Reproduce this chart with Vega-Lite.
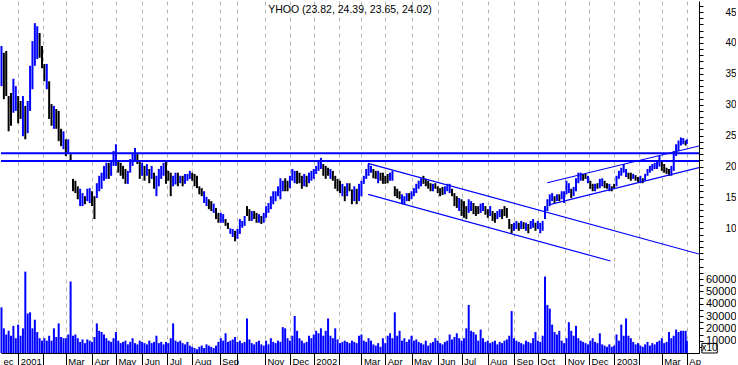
{
"$schema": "https://vega.github.io/schema/vega-lite/v6.json",
"padding": 0,
"background": "white",
"spacing": 0,
"bounds": "flush",
"config": {"view": {"stroke": null}, "font": "Liberation Sans", "axis": {"labelFont": "Liberation Sans", "labelColor": "#000000", "domainColor": "#000000", "tickColor": "#000000", "title": null, "labelOverlap": false, "labelBound": false, "labelFlush": false}},
"datasets": {
"bars": [
{"i":0,"o":34.5,"h":39.5,"l":33.0,"c":38.2,"v":37000},
{"i":2,"o":37.0,"h":38.4,"l":30.9,"c":32.5,"v":20000},
{"i":4,"o":37.5,"h":38.7,"l":31.4,"c":32.8,"v":15000},
{"i":6,"o":30.5,"h":31.4,"l":25.7,"c":26.8,"v":18000},
{"i":8,"o":31.0,"h":31.9,"l":26.6,"c":27.8,"v":14000},
{"i":10,"o":29.8,"h":34.2,"l":28.7,"c":33.2,"v":22000},
{"i":12,"o":29.8,"h":33.0,"l":29.0,"c":32.3,"v":12000},
{"i":14,"o":30.6,"h":31.4,"l":27.0,"c":28.0,"v":23000},
{"i":16,"o":30.0,"h":30.6,"l":27.7,"c":28.3,"v":14000},
{"i":18,"o":26.2,"h":31.4,"l":24.9,"c":30.2,"v":20000},
{"i":20,"o":28.9,"h":29.8,"l":24.4,"c":25.6,"v":66000},
{"i":22,"o":26.4,"h":30.6,"l":25.4,"c":29.6,"v":32000},
{"i":24,"o":30.4,"h":36.3,"l":29.0,"c":35.2,"v":33000},
{"i":26,"o":34.0,"h":40.3,"l":32.5,"c":39.0,"v":20000},
{"i":28,"o":37.5,"h":43.2,"l":36.3,"c":42.3,"v":27000},
{"i":30,"o":38.4,"h":42.7,"l":37.4,"c":41.8,"v":17000},
{"i":32,"o":41.0,"h":41.6,"l":37.6,"c":38.3,"v":12000},
{"i":34,"o":39.0,"h":39.5,"l":35.9,"c":36.6,"v":10000},
{"i":36,"o":36.1,"h":36.6,"l":33.8,"c":34.3,"v":12000},
{"i":38,"o":33.3,"h":36.6,"l":32.5,"c":35.8,"v":10000},
{"i":40,"o":33.0,"h":33.8,"l":27.7,"c":28.9,"v":14000},
{"i":42,"o":29.5,"h":30.1,"l":26.6,"c":27.3,"v":10000},
{"i":44,"o":26.8,"h":29.8,"l":26.1,"c":29.1,"v":20000},
{"i":46,"o":28.7,"h":29.3,"l":26.1,"c":26.7,"v":13000},
{"i":48,"o":28.1,"h":29.0,"l":24.1,"c":25.1,"v":24000},
{"i":50,"o":25.6,"h":26.1,"l":23.3,"c":23.9,"v":13000},
{"i":52,"o":23.3,"h":25.7,"l":22.8,"c":25.1,"v":12000},
{"i":54,"o":23.9,"h":24.4,"l":21.7,"c":22.2,"v":12000},
{"i":56,"o":22.6,"h":24.4,"l":22.2,"c":23.9,"v":15000},
{"i":58,"o":21.8,"h":22.0,"l":20.9,"c":21.1,"v":58000},
{"i":60,"o":17.6,"h":18.0,"l":16.0,"c":16.5,"v":14000},
{"i":62,"o":17.3,"h":17.7,"l":15.7,"c":16.1,"v":15000},
{"i":64,"o":16.4,"h":16.8,"l":14.7,"c":15.2,"v":12000},
{"i":66,"o":14.2,"h":16.4,"l":13.6,"c":15.8,"v":9000},
{"i":68,"o":14.1,"h":15.7,"l":13.6,"c":15.3,"v":11000},
{"i":70,"o":15.0,"h":15.2,"l":13.9,"c":14.2,"v":8000},
{"i":72,"o":14.8,"h":16.4,"l":14.4,"c":16.0,"v":11000},
{"i":74,"o":14.6,"h":16.5,"l":14.1,"c":16.0,"v":10000},
{"i":76,"o":15.5,"h":16.0,"l":13.6,"c":14.1,"v":9000},
{"i":78,"o":14.5,"h":15.2,"l":11.5,"c":12.3,"v":13000},
{"i":80,"o":15.4,"h":17.3,"l":14.9,"c":16.8,"v":24000},
{"i":82,"o":16.5,"h":18.5,"l":16.0,"c":18.0,"v":18000},
{"i":84,"o":16.9,"h":19.0,"l":16.4,"c":18.5,"v":17000},
{"i":86,"o":18.2,"h":20.1,"l":17.7,"c":19.6,"v":15000},
{"i":88,"o":18.5,"h":20.6,"l":18.0,"c":20.1,"v":12000},
{"i":90,"o":20.1,"h":20.6,"l":18.0,"c":18.6,"v":10000},
{"i":92,"o":19.0,"h":20.9,"l":18.5,"c":20.4,"v":9000},
{"i":94,"o":20.6,"h":22.5,"l":20.1,"c":22.0,"v":12000},
{"i":96,"o":20.9,"h":23.6,"l":20.1,"c":22.9,"v":17000},
{"i":98,"o":20.5,"h":20.9,"l":19.0,"c":19.4,"v":10000},
{"i":100,"o":20.2,"h":20.6,"l":18.5,"c":19.0,"v":8000},
{"i":102,"o":19.7,"h":20.1,"l":18.0,"c":18.5,"v":9000},
{"i":104,"o":19.1,"h":19.6,"l":17.2,"c":17.8,"v":10000},
{"i":106,"o":17.7,"h":19.3,"l":17.2,"c":18.9,"v":7000},
{"i":108,"o":19.5,"h":21.2,"l":19.0,"c":20.8,"v":9000},
{"i":110,"o":20.6,"h":22.2,"l":20.1,"c":21.8,"v":12000},
{"i":112,"o":21.4,"h":23.0,"l":20.9,"c":22.6,"v":8000},
{"i":114,"o":21.9,"h":22.2,"l":20.4,"c":20.8,"v":7000},
{"i":116,"o":20.4,"h":20.9,"l":18.0,"c":18.7,"v":10000},
{"i":118,"o":19.0,"h":20.6,"l":18.5,"c":20.2,"v":9000},
{"i":120,"o":19.6,"h":20.1,"l":17.7,"c":18.3,"v":8000},
{"i":122,"o":18.9,"h":20.4,"l":18.5,"c":20.0,"v":7000},
{"i":124,"o":19.1,"h":19.6,"l":17.3,"c":17.9,"v":10000},
{"i":126,"o":18.5,"h":20.1,"l":18.0,"c":19.7,"v":8000},
{"i":128,"o":18.5,"h":19.0,"l":16.4,"c":17.0,"v":9000},
{"i":130,"o":16.0,"h":18.5,"l":15.2,"c":18.0,"v":14000},
{"i":132,"o":17.4,"h":19.6,"l":16.8,"c":19.1,"v":8000},
{"i":134,"o":18.5,"h":20.1,"l":18.0,"c":19.7,"v":9000},
{"i":136,"o":19.0,"h":20.6,"l":18.5,"c":20.2,"v":7000},
{"i":138,"o":20.2,"h":20.9,"l":17.2,"c":17.9,"v":9000},
{"i":140,"o":19.0,"h":19.3,"l":17.7,"c":18.0,"v":8000},
{"i":142,"o":18.3,"h":19.0,"l":15.2,"c":16.0,"v":12000},
{"i":144,"o":17.2,"h":18.5,"l":16.8,"c":18.1,"v":24000},
{"i":146,"o":17.5,"h":19.0,"l":17.1,"c":18.6,"v":10000},
{"i":148,"o":18.6,"h":19.0,"l":16.8,"c":17.3,"v":9000},
{"i":150,"o":17.6,"h":18.5,"l":17.3,"c":18.3,"v":10000},
{"i":152,"o":18.2,"h":18.5,"l":16.8,"c":17.2,"v":8000},
{"i":154,"o":17.5,"h":18.8,"l":17.2,"c":18.5,"v":7000},
{"i":156,"o":17.9,"h":18.8,"l":17.7,"c":18.6,"v":9000},
{"i":158,"o":18.3,"h":19.3,"l":18.0,"c":19.0,"v":6000},
{"i":160,"o":18.8,"h":19.0,"l":17.7,"c":17.9,"v":5000},
{"i":162,"o":18.4,"h":18.8,"l":16.8,"c":17.2,"v":4000},
{"i":164,"o":18.1,"h":18.5,"l":16.5,"c":16.9,"v":3000},
{"i":166,"o":16.6,"h":16.8,"l":15.5,"c":15.8,"v":5000},
{"i":168,"o":16.3,"h":16.5,"l":15.2,"c":15.5,"v":6000},
{"i":170,"o":14.5,"h":16.0,"l":14.1,"c":15.6,"v":4000},
{"i":172,"o":13.9,"h":15.1,"l":13.6,"c":14.8,"v":7000},
{"i":174,"o":14.4,"h":14.7,"l":13.1,"c":13.4,"v":6000},
{"i":176,"o":14.1,"h":14.4,"l":12.8,"c":13.1,"v":5000},
{"i":178,"o":12.8,"h":14.0,"l":12.5,"c":13.7,"v":4000},
{"i":180,"o":13.0,"h":13.3,"l":11.5,"c":11.9,"v":6000},
{"i":182,"o":12.2,"h":12.5,"l":10.9,"c":11.2,"v":9000},
{"i":184,"o":11.2,"h":12.5,"l":10.9,"c":12.2,"v":12000},
{"i":186,"o":11.2,"h":12.3,"l":10.9,"c":12.0,"v":10000},
{"i":188,"o":11.3,"h":11.5,"l":10.4,"c":10.6,"v":16000},
{"i":190,"o":10.7,"h":10.9,"l":9.9,"c":10.1,"v":9000},
{"i":192,"o":9.3,"h":10.0,"l":9.1,"c":9.8,"v":10000},
{"i":194,"o":8.9,"h":9.9,"l":8.6,"c":9.6,"v":11000},
{"i":196,"o":9.3,"h":9.6,"l":7.9,"c":8.3,"v":13000},
{"i":198,"o":8.6,"h":9.9,"l":8.3,"c":9.6,"v":9000},
{"i":200,"o":9.6,"h":11.5,"l":9.1,"c":11.0,"v":10000},
{"i":202,"o":10.3,"h":11.2,"l":10.1,"c":11.0,"v":8000},
{"i":204,"o":10.7,"h":12.0,"l":10.4,"c":11.7,"v":9000},
{"i":206,"o":13.3,"h":13.6,"l":12.0,"c":12.3,"v":28000},
{"i":208,"o":12.8,"h":13.1,"l":11.2,"c":11.6,"v":11000},
{"i":210,"o":11.5,"h":12.8,"l":11.2,"c":12.5,"v":8000},
{"i":212,"o":12.6,"h":12.8,"l":11.5,"c":11.8,"v":7000},
{"i":214,"o":12.2,"h":12.5,"l":10.9,"c":11.2,"v":9000},
{"i":216,"o":11.2,"h":12.3,"l":10.9,"c":12.0,"v":10000},
{"i":218,"o":11.8,"h":12.0,"l":10.7,"c":11.0,"v":7000},
{"i":220,"o":11.2,"h":12.5,"l":10.9,"c":12.2,"v":6000},
{"i":222,"o":12.1,"h":13.6,"l":11.7,"c":13.2,"v":10000},
{"i":224,"o":12.8,"h":14.1,"l":12.5,"c":13.8,"v":7000},
{"i":226,"o":13.5,"h":15.2,"l":13.1,"c":14.8,"v":12000},
{"i":228,"o":14.3,"h":16.0,"l":13.9,"c":15.6,"v":9000},
{"i":230,"o":14.7,"h":16.0,"l":14.4,"c":15.7,"v":8000},
{"i":232,"o":15.5,"h":16.8,"l":15.2,"c":16.5,"v":10000},
{"i":234,"o":15.4,"h":18.1,"l":14.7,"c":17.5,"v":9000},
{"i":236,"o":16.3,"h":17.7,"l":16.0,"c":17.4,"v":21000},
{"i":238,"o":17.7,"h":18.1,"l":16.0,"c":16.4,"v":20000},
{"i":240,"o":17.4,"h":17.7,"l":16.0,"c":16.3,"v":12000},
{"i":242,"o":16.9,"h":18.5,"l":16.5,"c":18.1,"v":10000},
{"i":244,"o":18.1,"h":19.6,"l":17.7,"c":19.2,"v":14000},
{"i":246,"o":17.7,"h":19.3,"l":17.3,"c":19.0,"v":30000},
{"i":248,"o":18.9,"h":19.3,"l":17.2,"c":17.6,"v":18000},
{"i":250,"o":18.7,"h":19.0,"l":17.3,"c":17.6,"v":12000},
{"i":252,"o":18.1,"h":18.5,"l":16.4,"c":16.8,"v":10000},
{"i":254,"o":17.2,"h":18.8,"l":16.8,"c":18.4,"v":8000},
{"i":256,"o":18.2,"h":18.5,"l":16.7,"c":17.0,"v":9000},
{"i":258,"o":17.6,"h":19.0,"l":17.3,"c":18.7,"v":14000},
{"i":260,"o":18.0,"h":19.3,"l":17.7,"c":19.0,"v":12000},
{"i":262,"o":18.3,"h":19.6,"l":18.0,"c":19.3,"v":15000},
{"i":264,"o":19.0,"h":20.1,"l":18.8,"c":19.9,"v":18000},
{"i":266,"o":19.6,"h":20.9,"l":19.3,"c":20.6,"v":16000},
{"i":268,"o":19.9,"h":21.4,"l":19.6,"c":21.0,"v":20000},
{"i":270,"o":20.0,"h":20.4,"l":18.5,"c":18.9,"v":14000},
{"i":272,"o":19.7,"h":20.1,"l":18.0,"c":18.4,"v":18000},
{"i":274,"o":19.5,"h":19.8,"l":18.5,"c":18.8,"v":28000},
{"i":276,"o":18.3,"h":19.6,"l":18.0,"c":19.3,"v":14000},
{"i":278,"o":19.0,"h":19.3,"l":17.7,"c":18.0,"v":12000},
{"i":280,"o":18.1,"h":18.5,"l":16.4,"c":16.8,"v":20000},
{"i":282,"o":17.6,"h":18.0,"l":16.0,"c":16.4,"v":11000},
{"i":284,"o":17.3,"h":17.7,"l":15.7,"c":16.1,"v":8000},
{"i":286,"o":15.6,"h":17.2,"l":15.2,"c":16.8,"v":9000},
{"i":288,"o":16.3,"h":16.8,"l":14.4,"c":14.9,"v":10000},
{"i":290,"o":15.6,"h":17.3,"l":15.2,"c":16.9,"v":9000},
{"i":292,"o":17.0,"h":17.3,"l":16.0,"c":16.3,"v":8000},
{"i":294,"o":15.8,"h":16.3,"l":13.9,"c":14.4,"v":10000},
{"i":296,"o":14.9,"h":16.8,"l":14.4,"c":16.3,"v":9000},
{"i":298,"o":15.9,"h":16.4,"l":13.9,"c":14.4,"v":8000},
{"i":300,"o":15.0,"h":17.2,"l":14.4,"c":16.6,"v":14000},
{"i":302,"o":15.7,"h":17.7,"l":15.2,"c":17.2,"v":15000},
{"i":304,"o":17.5,"h":18.5,"l":17.2,"c":18.2,"v":10000},
{"i":306,"o":18.3,"h":19.6,"l":18.0,"c":19.3,"v":9000},
{"i":308,"o":18.9,"h":20.4,"l":18.5,"c":20.0,"v":12000},
{"i":310,"o":19.2,"h":20.1,"l":19.0,"c":19.9,"v":10000},
{"i":312,"o":19.3,"h":19.6,"l":18.1,"c":18.4,"v":7000},
{"i":314,"o":19.0,"h":19.3,"l":18.0,"c":18.3,"v":6000},
{"i":316,"o":17.7,"h":19.3,"l":17.3,"c":18.9,"v":8000},
{"i":318,"o":18.7,"h":19.0,"l":17.7,"c":18.0,"v":5000},
{"i":320,"o":18.6,"h":19.0,"l":17.2,"c":17.6,"v":12000},
{"i":322,"o":18.2,"h":18.5,"l":17.2,"c":17.5,"v":8000},
{"i":324,"o":18.5,"h":18.8,"l":17.3,"c":17.6,"v":14000},
{"i":326,"o":18.0,"h":19.0,"l":17.7,"c":18.7,"v":16000},
{"i":328,"o":18.0,"h":19.3,"l":17.7,"c":19.0,"v":12000},
{"i":330,"o":16.5,"h":16.8,"l":15.2,"c":15.5,"v":33000},
{"i":332,"o":16.1,"h":16.4,"l":14.9,"c":15.2,"v":14000},
{"i":334,"o":15.7,"h":16.0,"l":14.7,"c":15.0,"v":18000},
{"i":336,"o":14.2,"h":15.5,"l":13.9,"c":15.2,"v":10000},
{"i":338,"o":14.2,"h":15.2,"l":13.9,"c":14.9,"v":12000},
{"i":340,"o":14.7,"h":15.7,"l":14.4,"c":15.4,"v":9000},
{"i":342,"o":15.4,"h":15.7,"l":14.4,"c":14.7,"v":11000},
{"i":344,"o":15.0,"h":16.0,"l":14.7,"c":15.7,"v":14000},
{"i":346,"o":15.5,"h":16.5,"l":15.2,"c":16.2,"v":10000},
{"i":348,"o":16.0,"h":17.2,"l":15.7,"c":16.9,"v":11000},
{"i":350,"o":16.7,"h":17.7,"l":16.4,"c":17.4,"v":9000},
{"i":352,"o":17.1,"h":18.1,"l":16.8,"c":17.8,"v":8000},
{"i":354,"o":18.2,"h":18.5,"l":17.2,"c":17.5,"v":7000},
{"i":356,"o":17.7,"h":18.0,"l":16.8,"c":17.1,"v":10000},
{"i":358,"o":17.4,"h":17.7,"l":16.4,"c":16.7,"v":6000},
{"i":360,"o":17.0,"h":17.3,"l":16.0,"c":16.3,"v":8000},
{"i":362,"o":16.3,"h":17.2,"l":16.0,"c":16.9,"v":9000},
{"i":364,"o":17.1,"h":17.3,"l":16.4,"c":16.6,"v":12000},
{"i":366,"o":16.6,"h":16.8,"l":15.7,"c":16.0,"v":10000},
{"i":368,"o":16.2,"h":16.5,"l":15.2,"c":15.5,"v":8000},
{"i":370,"o":16.4,"h":16.7,"l":15.4,"c":15.7,"v":7000},
{"i":372,"o":15.8,"h":16.8,"l":15.5,"c":16.5,"v":9000},
{"i":374,"o":16.3,"h":17.2,"l":16.0,"c":16.9,"v":10000},
{"i":376,"o":16.0,"h":17.2,"l":15.7,"c":16.9,"v":15000},
{"i":378,"o":16.1,"h":16.4,"l":15.2,"c":15.5,"v":11000},
{"i":380,"o":15.3,"h":15.7,"l":13.6,"c":14.1,"v":13000},
{"i":382,"o":14.8,"h":15.2,"l":13.3,"c":13.7,"v":16000},
{"i":384,"o":13.2,"h":14.9,"l":12.8,"c":14.5,"v":12000},
{"i":386,"o":14.2,"h":14.7,"l":12.0,"c":12.6,"v":10000},
{"i":388,"o":13.9,"h":14.4,"l":11.7,"c":12.3,"v":12000},
{"i":390,"o":13.2,"h":13.6,"l":11.5,"c":11.9,"v":20000},
{"i":392,"o":12.9,"h":14.7,"l":12.5,"c":14.3,"v":39000},
{"i":394,"o":13.1,"h":14.4,"l":12.8,"c":14.1,"v":18000},
{"i":396,"o":13.8,"h":14.1,"l":12.3,"c":12.6,"v":17000},
{"i":398,"o":13.3,"h":13.6,"l":12.0,"c":12.3,"v":15000},
{"i":400,"o":13.3,"h":13.6,"l":12.3,"c":12.6,"v":10000},
{"i":402,"o":12.8,"h":14.0,"l":12.5,"c":13.7,"v":19000},
{"i":404,"o":13.1,"h":14.1,"l":12.8,"c":13.8,"v":12000},
{"i":406,"o":13.3,"h":13.6,"l":12.2,"c":12.5,"v":9000},
{"i":408,"o":12.8,"h":13.1,"l":11.7,"c":12.0,"v":10000},
{"i":410,"o":12.3,"h":13.6,"l":12.0,"c":13.3,"v":8000},
{"i":412,"o":12.5,"h":12.8,"l":11.2,"c":11.5,"v":9000},
{"i":414,"o":12.2,"h":12.5,"l":10.9,"c":11.2,"v":10000},
{"i":416,"o":11.8,"h":12.8,"l":11.5,"c":12.5,"v":7000},
{"i":418,"o":12.1,"h":13.1,"l":11.8,"c":12.8,"v":9000},
{"i":420,"o":12.8,"h":13.1,"l":11.5,"c":11.8,"v":8000},
{"i":422,"o":13.3,"h":13.6,"l":12.0,"c":12.3,"v":10000},
{"i":424,"o":13.0,"h":13.3,"l":11.7,"c":12.0,"v":11000},
{"i":426,"o":11.2,"h":11.5,"l":9.9,"c":10.2,"v":14000},
{"i":428,"o":10.4,"h":10.7,"l":9.2,"c":9.5,"v":34000},
{"i":430,"o":9.9,"h":10.9,"l":9.6,"c":10.6,"v":12000},
{"i":432,"o":10.2,"h":11.2,"l":9.9,"c":10.9,"v":10000},
{"i":434,"o":10.6,"h":10.9,"l":9.6,"c":9.9,"v":9000},
{"i":436,"o":10.2,"h":11.2,"l":9.9,"c":10.9,"v":8000},
{"i":438,"o":10.8,"h":11.0,"l":9.9,"c":10.1,"v":7000},
{"i":440,"o":9.9,"h":10.9,"l":9.6,"c":10.6,"v":10000},
{"i":442,"o":10.4,"h":10.7,"l":9.2,"c":9.5,"v":9000},
{"i":444,"o":10.2,"h":11.2,"l":9.9,"c":10.9,"v":8000},
{"i":446,"o":10.4,"h":11.5,"l":10.1,"c":11.2,"v":12000},
{"i":448,"o":10.6,"h":10.9,"l":9.6,"c":9.9,"v":17000},
{"i":450,"o":10.2,"h":11.2,"l":9.9,"c":10.9,"v":10000},
{"i":452,"o":9.6,"h":10.9,"l":9.2,"c":10.6,"v":9000},
{"i":454,"o":9.9,"h":11.2,"l":9.6,"c":10.9,"v":14000},
{"i":456,"o":11.9,"h":13.6,"l":11.5,"c":13.2,"v":62000},
{"i":458,"o":13.2,"h":14.7,"l":12.8,"c":14.3,"v":39000},
{"i":460,"o":14.0,"h":15.5,"l":13.6,"c":15.1,"v":36000},
{"i":462,"o":14.7,"h":15.7,"l":14.4,"c":15.4,"v":23000},
{"i":464,"o":15.0,"h":15.2,"l":14.1,"c":14.3,"v":17000},
{"i":466,"o":14.6,"h":15.5,"l":14.4,"c":15.3,"v":15000},
{"i":468,"o":15.3,"h":15.5,"l":14.4,"c":14.6,"v":18000},
{"i":470,"o":15.0,"h":16.0,"l":14.7,"c":15.7,"v":10000},
{"i":472,"o":14.5,"h":16.0,"l":14.1,"c":15.6,"v":8000},
{"i":474,"o":15.9,"h":17.7,"l":15.5,"c":17.3,"v":12000},
{"i":476,"o":16.0,"h":17.3,"l":15.7,"c":17.0,"v":25000},
{"i":478,"o":16.1,"h":16.4,"l":14.9,"c":15.2,"v":18000},
{"i":480,"o":15.5,"h":16.7,"l":15.2,"c":16.4,"v":14000},
{"i":482,"o":16.4,"h":18.1,"l":16.0,"c":17.7,"v":22000},
{"i":484,"o":17.6,"h":19.0,"l":17.3,"c":18.7,"v":12000},
{"i":486,"o":18.0,"h":19.0,"l":17.7,"c":18.7,"v":10000},
{"i":488,"o":18.6,"h":18.8,"l":17.7,"c":17.9,"v":9000},
{"i":490,"o":18.6,"h":18.8,"l":18.0,"c":18.2,"v":8000},
{"i":492,"o":17.6,"h":18.5,"l":17.3,"c":18.2,"v":7000},
{"i":494,"o":17.4,"h":17.7,"l":16.4,"c":16.7,"v":10000},
{"i":496,"o":16.9,"h":17.2,"l":16.0,"c":16.3,"v":12000},
{"i":498,"o":16.3,"h":17.2,"l":16.0,"c":16.9,"v":9000},
{"i":500,"o":17.1,"h":17.3,"l":16.4,"c":16.6,"v":8000},
{"i":502,"o":16.8,"h":18.0,"l":16.5,"c":17.7,"v":16000},
{"i":504,"o":17.1,"h":18.1,"l":16.8,"c":17.8,"v":7000},
{"i":506,"o":17.4,"h":17.7,"l":16.5,"c":16.8,"v":6000},
{"i":508,"o":17.1,"h":17.3,"l":16.4,"c":16.6,"v":5000},
{"i":510,"o":16.3,"h":17.2,"l":16.0,"c":16.9,"v":7000},
{"i":512,"o":16.6,"h":16.8,"l":16.0,"c":16.2,"v":5000},
{"i":514,"o":17.0,"h":17.2,"l":16.4,"c":16.6,"v":6000},
{"i":516,"o":17.1,"h":18.5,"l":16.8,"c":18.2,"v":15000},
{"i":518,"o":18.3,"h":19.3,"l":18.0,"c":19.0,"v":10000},
{"i":520,"o":18.8,"h":19.8,"l":18.5,"c":19.5,"v":23000},
{"i":522,"o":19.3,"h":20.4,"l":19.0,"c":20.1,"v":14000},
{"i":524,"o":18.6,"h":19.6,"l":18.3,"c":19.3,"v":28000},
{"i":526,"o":18.8,"h":19.0,"l":18.0,"c":18.2,"v":14000},
{"i":528,"o":18.7,"h":19.0,"l":17.7,"c":18.0,"v":12000},
{"i":530,"o":18.2,"h":18.8,"l":18.0,"c":18.6,"v":9000},
{"i":532,"o":18.4,"h":18.6,"l":17.7,"c":17.9,"v":7000},
{"i":534,"o":18.1,"h":18.3,"l":17.5,"c":17.7,"v":8000},
{"i":536,"o":17.6,"h":18.5,"l":17.3,"c":18.2,"v":6000},
{"i":538,"o":17.9,"h":18.1,"l":17.3,"c":17.5,"v":5000},
{"i":540,"o":18.0,"h":18.8,"l":17.7,"c":18.5,"v":7000},
{"i":542,"o":18.8,"h":19.6,"l":18.5,"c":19.3,"v":9000},
{"i":544,"o":19.3,"h":20.1,"l":19.0,"c":19.8,"v":6000},
{"i":546,"o":19.6,"h":20.4,"l":19.3,"c":20.1,"v":8000},
{"i":548,"o":19.8,"h":20.6,"l":19.6,"c":20.4,"v":7000},
{"i":550,"o":19.9,"h":20.9,"l":19.6,"c":20.6,"v":9000},
{"i":552,"o":20.4,"h":21.7,"l":20.0,"c":21.3,"v":10000},
{"i":554,"o":20.6,"h":20.9,"l":19.3,"c":19.6,"v":12000},
{"i":556,"o":20.1,"h":20.4,"l":19.0,"c":19.3,"v":8000},
{"i":558,"o":19.6,"h":19.8,"l":18.8,"c":19.0,"v":9000},
{"i":560,"o":19.4,"h":19.6,"l":18.5,"c":18.7,"v":17000},
{"i":562,"o":18.8,"h":20.1,"l":18.5,"c":19.8,"v":12000},
{"i":564,"o":19.9,"h":22.5,"l":19.3,"c":22.0,"v":14000},
{"i":566,"o":22.0,"h":23.6,"l":21.7,"c":23.2,"v":19000},
{"i":568,"o":22.8,"h":24.2,"l":22.5,"c":23.9,"v":17000},
{"i":570,"o":23.6,"h":24.7,"l":23.4,"c":24.5,"v":18000},
{"i":572,"o":23.8,"h":24.6,"l":23.6,"c":24.4,"v":18000},
{"i":574,"o":24.1,"h":24.2,"l":23.4,"c":23.6,"v":18000},
{"i":575,"o":23.82,"h":24.39,"l":23.65,"c":24.02,"v":10000}
],
"trend": [
{"id":"d1","i":307.5,"p":20.52},{"id":"d1","i":585.2,"p":5.84},
{"id":"d2","i":307.7,"p":15.5},{"id":"d2","i":511,"p":4.71},
{"id":"u1","i":457.9,"p":17.38},{"id":"u1","i":585.2,"p":23.32},
{"id":"u2","i":460.7,"p":13.88},{"id":"u2","i":585.2,"p":19.81}
]
},
"vconcat": [
{
"width": 698, "height": 262,
"layer": [
{"data": {"name": "bars"}, "mark": {"type": "rule", "strokeWidth": 2},
 "encoding": {
  "x": {"field": "i", "type": "quantitative", "scale": {"domain": [-0.4, 585.2], "nice": false, "zero": false},
        "axis": {"values": [14,35,54,76,96,118,139,160,183,198,221,242,262,283,302,322,344,366,386,408,430,450,473,493,514,535,554,575], "tickCount": 1000, "grid": true, "gridColor": "#b4b4b4", "gridDash": [4,4], "labels": false, "ticks": false, "domain": false, "title": null}},
  "y": {"field": "l", "type": "quantitative", "scale": {"domain": [4.39, 46.78], "nice": false, "zero": false},
        "axis": {"orient": "right", "values": [5,6,7,8,9,10,11,12,13,14,15,16,17,18,19,20,21,22,23,24,25,26,27,28,29,30,31,32,33,34,35,36,37,38,39,40,41,42,43,44,45,46], "tickCount": 1000, "grid": false, "title": null, "tickSize": 4,
                 "labelExpr": "(datum.value % 5 === 0 && datum.value >= 10) ? datum.label : ''",
                 "labelFontSize": 10,
                 "labelAlign": "right", "labelBaseline": "middle", "labelPadding": 33, "labelOverlap": false, "labelBound": false, "labelFlush": false, "format": "d"}},
  "y2": {"field": "h"},
  "color": {"condition": {"test": "datum.c >= datum.o", "value": "#0000ff"}, "value": "#000000"}
 }},
{"data": {"values": [{}]}, "mark": {"type": "rule", "color": "#0000ff", "strokeWidth": 2}, "encoding": {"y": {"datum": 22.14}}},
{"data": {"values": [{}]}, "mark": {"type": "rule", "color": "#0000ff", "strokeWidth": 2}, "encoding": {"y": {"datum": 20.9}}},
{"data": {"name": "trend"}, "mark": {"type": "line", "color": "#0000ff", "strokeWidth": 1.2, "clip": true},
 "encoding": {"x": {"field": "i", "type": "quantitative"}, "y": {"field": "p", "type": "quantitative"}, "detail": {"field": "id"}}},
{"data": {"values": [{}]}, "mark": {"type": "text", "fontSize": 10.5, "font": "Liberation Sans", "color": "#000000", "align": "center", "baseline": "middle"},
 "encoding": {"x": {"datum": 292.4}, "y": {"datum": 45.4}, "text": {"value": "YHOO (23.82, 24.39, 23.65, 24.02)"}}}
]
},
{
"width": 698, "height": 90,
"layer": [
{"data": {"name": "bars"}, "mark": {"type": "rule", "strokeWidth": 2, "color": "#0000ff"},
 "encoding": {
  "x": {"field": "i", "type": "quantitative", "scale": {"domain": [-0.4, 585.2], "nice": false, "zero": false},
        "axis": {"values": [-0.4,14,35,54,76,96,118,139,160,183,198,221,242,262,283,302,322,344,366,386,408,430,450,473,493,514,535,554,575], "tickCount": 1000,
                 "labelExpr": "['ec','2001','','Mar','Apr','May','Jun','Jul','Aug','Sep','','Nov','Dec','2002','','Mar','Apr','May','Jun','Jul','Aug','Sep','Oct','Nov','Dec','2003','','Mar','Ap'][indexof([-0.4,14,35,54,76,96,118,139,160,183,198,221,242,262,283,302,322,344,366,386,408,430,450,473,493,514,535,554,575], datum.value)]",
                 "labelFontSize": 9.5,
                 "grid": true, "gridColor": "#b4b4b4", "gridDash": [4,4],
                 "gridOpacity": {"condition": {"test": "datum.value < 0", "value": 0}, "value": 1},
                 "tickOpacity": {"condition": {"test": "datum.value < 0", "value": 0}, "value": 1},
                 "tickSize": 13, "labelPadding": -2, "labelAlign": "left", "labelBaseline": "alphabetic", "labelOffset": 2, "labelOverlap": false, "labelFlush": false, "labelBound": false, "title": null}},
  "y": {"field": "v", "type": "quantitative", "scale": {"domain": [0, 73000], "nice": false, "zero": true},
        "axis": {"orient": "right", "values": [5000,10000,15000,20000,25000,30000,35000,40000,45000,50000,55000,60000,65000,70000], "tickCount": 1000, "grid": false, "title": null, "tickSize": 4,
                 "labelExpr": "(datum.value % 10000 === 0 && datum.value <= 60000) ? datum.label : ''",
                 "labelFontSize": 11,
                 "labelAlign": "right", "labelBaseline": "middle", "labelPadding": 33, "labelOverlap": false, "labelBound": false, "labelFlush": false, "format": "d"}},
  "y2": {"datum": 0}
 }},
{"data": {"values": [{}]}, "mark": {"type": "rect", "fill": "#ffffff", "stroke": "#000000", "strokeWidth": 1},
 "encoding": {"x": {"datum": 587.6}, "x2": {"datum": 600.5}, "y": {"datum": 0}, "y2": {"datum": 7800}}},
{"data": {"values": [{}]}, "mark": {"type": "text", "fontSize": 10, "font": "Liberation Sans", "color": "#000000", "align": "center", "baseline": "middle"},
 "encoding": {"x": {"datum": 594}, "y": {"datum": 3900}, "text": {"value": "x10"}}}
]
}
]
}
